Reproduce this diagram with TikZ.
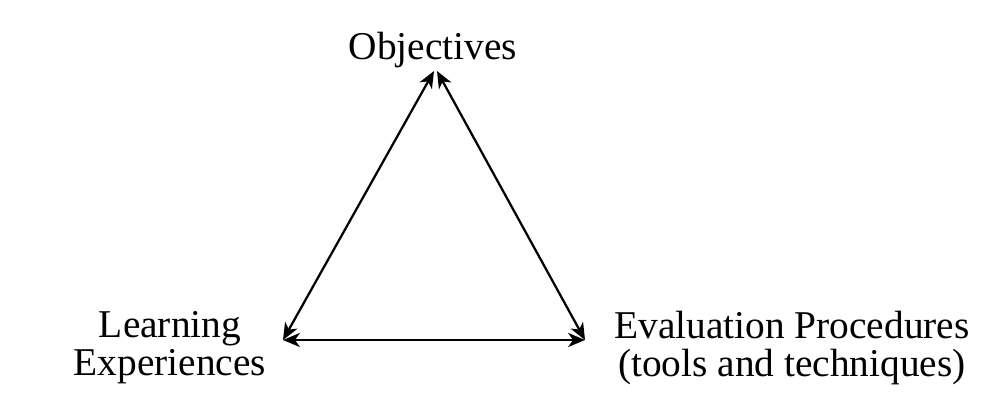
\documentclass[tikz,border=0pt]{standalone}
\usepackage{fontspec}
\setmainfont{Liberation Serif}
\usetikzlibrary{arrows.meta,positioning}
\tikzset{
    %Define standard arrow tip
    >={Stealth[length=12pt,width=10pt,inset=3.5pt]},
    %Define style for labels
    etikett/.style={
           font=\fontsize{28}{26.5}\selectfont,
           inner sep=0pt,
           align=center},
    % Define arrow style
    pil/.style={
	   <->,
           line width=1.6pt}
}

\begin{document}
\begin{tikzpicture}[x=0.025cm,y=-0.025cm]
  \useasboundingbox (0,0) rectangle (992,412);
  \coordinate (topL) at (434,71);
  \coordinate (topR) at (437,71);
  \coordinate (left) at (283,340);
  \coordinate (right) at (585,340);
  \node[etikett,anchor=base] (obj) at (433,60) {Objectives};
  \node[etikett,anchor=base] (learn) at (170,375) {Learning\\Experiences};
  \node[etikett,anchor=base] (eval) at (792,376) {Evaluation Procedures\\(tools and techniques)};
  \draw[pil] (topL) -- (left);
  \draw[pil] (topR) -- (right);
  \draw[pil] (left) -- (right);
\end{tikzpicture}
\end{document}
